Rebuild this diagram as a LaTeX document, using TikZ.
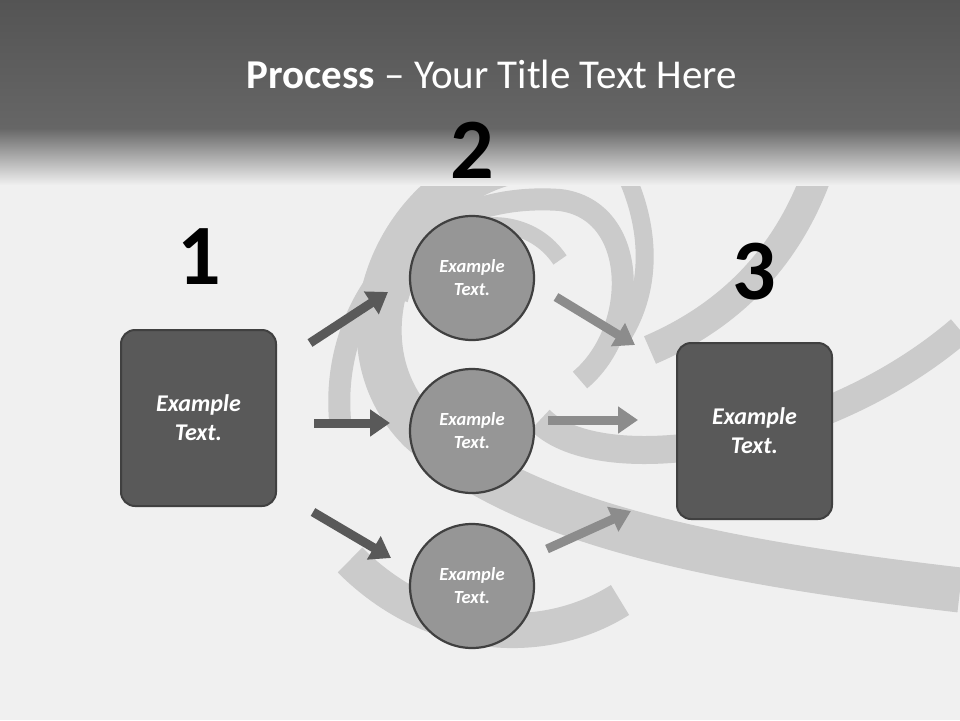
\documentclass[tikz,border=0pt]{standalone}
\usepackage{fontspec}
\setmainfont{Carlito}
\usetikzlibrary{arrows.meta}
\definecolor{dark}{HTML}{595959}
\definecolor{edge}{HTML}{404040}
\definecolor{circ}{HTML}{969696}
\definecolor{light}{HTML}{8C8C8C}
\definecolor{band}{HTML}{CBCBCB}
\tikzset{
 boxn/.style={draw=edge,line width=2pt,fill=dark,rounded corners=14pt,minimum width=155pt,minimum height=176pt,text=white,align=center,font=\fontsize{24}{29}\selectfont\bfseries\itshape},
 circn/.style={circle,draw=edge,line width=2.2pt,fill=circ,minimum size=124pt,text=white,align=center,font=\fontsize{18.5}{23}\selectfont\bfseries\itshape},
 numn/.style={font=\fontsize{86}{86}\selectfont\bfseries},
 darr/.style={draw=dark,line width=9pt,-{Triangle[length=20pt,width=26pt]}},
 larr/.style={draw=light,line width=9pt,-{Triangle[length=20pt,width=26pt]}},
 bandl/.style={draw=band,line width=28pt}
}
\begin{document}
\begin{tikzpicture}[x=1pt,y=-1pt]
\useasboundingbox (0,0) rectangle (960,720);
\fill[white!94!black] (0,0) rectangle (960,720);
\begin{scope}
\clip (0,0) rectangle (960,720);
\draw[bandl,line width=45pt] (960,590) .. controls (700,560) and (520,520) .. (420,430) .. controls (330,340) and (400,180) .. (520,160);
\draw[bandl] (960,330) .. controls (820,450) and (600,480) .. (540,420);
\draw[bandl,line width=22pt] (340,420) .. controls (330,300) and (420,190) .. (560,200) .. controls (640,210) and (640,330) .. (580,380);
\draw[bandl,line width=18pt] (600,130) .. controls (650,200) and (660,280) .. (620,340);
\draw[bandl,line width=30pt] (830,130) .. controls (800,260) and (720,320) .. (650,350);
\draw[bandl,line width=16pt] (400,300) .. controls (420,220) and (520,200) .. (560,260);
\draw[bandl,line width=35pt] (350,560) .. controls (430,640) and (540,650) .. (620,600);
\end{scope}
\shade[top color=white!33!black,bottom color=white!40!black] (0,0) rectangle (960,128);
\shade[top color=white!40!black,bottom color=white!94!black] (0,128) rectangle (960,185);
\node[text=white,font=\fontsize{41}{45}\selectfont] (title) at (492,74) {\textbf{Process} – Your Title Text Here};
\node[boxn] (b1) at (198.5,418) {Example\\Text.};
\node[boxn] (b3) at (754.5,431) {Example\\Text.};
\node[circn] (c1) at (472,278) {Example\\Text.};
\node[circn] (c2) at (472,431) {Example\\Text.};
\node[circn] (c3) at (472,586) {Example\\Text.};
\node[numn] (n1) at (199,257) {1};
\node[numn] (n2) at (472,150) {2};
\node[numn] (n3) at (754,272) {3};
\coordinate (a1s) at (310,343); \coordinate (a1e) at (388,292);
\coordinate (a2s) at (314,423); \coordinate (a2e) at (390,423);
\coordinate (a3s) at (313,512); \coordinate (a3e) at (391,558);
\coordinate (a4s) at (556,297); \coordinate (a4e) at (635,345);
\coordinate (a5s) at (548,420); \coordinate (a5e) at (638,420);
\coordinate (a6s) at (547,549); \coordinate (a6e) at (631,511);
\draw[darr] (a1s) -- (a1e);
\draw[darr] (a2s) -- (a2e);
\draw[darr] (a3s) -- (a3e);
\draw[larr] (a4s) -- (a4e);
\draw[larr] (a5s) -- (a5e);
\draw[larr] (a6s) -- (a6e);
\end{tikzpicture}
\end{document}
